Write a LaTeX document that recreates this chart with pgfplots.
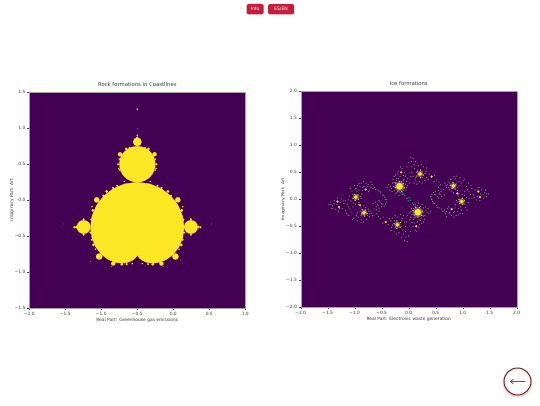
\documentclass[border=0pt]{standalone}
\usepackage{pgfplots}
\pgfplotsset{compat=1.18}
\usepackage{fontspec}
\setmainfont{DejaVu Sans}
\definecolor{vp}{HTML}{440154}
\definecolor{vy}{HTML}{FDE725}
\definecolor{dustc}{HTML}{7F8F7C}
\definecolor{midd}{HTML}{C4DA5A}
\definecolor{teal2}{HTML}{2A8A7E}
\definecolor{btn}{HTML}{C41E3A}
\definecolor{ring}{HTML}{8B1A1F}
\definecolor{txt}{HTML}{3A3A3A}
\newcommand\dd[3]{\addplot[only marks,mark=*,mark size=#1,mark options={draw=#2,fill=#2,line width=.05pt}] coordinates {#3};}
\newcommand\gl[3]{\addplot[only marks,mark=*,mark size=#1,mark options={draw=#2,fill=#2,line width=.05pt,opacity=.4}] coordinates {#3};}
\pgfplotsset{
  pan/.style={
    anchor=south west, scale only axis, width=216pt, height=216pt,
    axis background/.style={fill=vp},
    tick align=outside, tick pos=left, major tick length=1.8pt,
    tick style={line width=.3pt,color=txt}, axis line style={line width=.25pt,color=gray!70},
    ticklabel style={font=\fontsize{4.4}{5}\selectfont,text=txt},
    xlabel style={font=\fontsize{4.4}{5}\selectfont,text=txt},
    ylabel style={font=\fontsize{4.4}{5}\selectfont,text=txt},
    title style={font=\fontsize{5.3}{6}\selectfont,text=txt,yshift=-3.6pt},
    xticklabel style={yshift=1.5pt}, yticklabel style={xshift=1.5pt},
    xlabel shift=-4.2pt, ylabel shift=-6pt,
    clip=true,
  }
}
\begin{document}
\begin{tikzpicture}[x=1pt,y=1pt]
\path[use as bounding box,fill=white] (0,0) rectangle (540,405);
\begin{axis}[pan, at={(29.3pt,96.8pt)}, xmin=-2,xmax=1,ymin=-1.5,ymax=1.5,
  xtick={-2,-1.5,-1,-.5,0,.5,1}, xticklabels={−2.0,−1.5,−1.0,−0.5,0.0,0.5,1.0},
  ytick={-1.5,-1,-.5,0,.5,1,1.5}, yticklabels={−1.5,−1.0,−0.5,0.0,0.5,1.0,1.5},
  title={Rock formations in Coastlines},
  xlabel={Real Part: Greenhouse gas emissions}, ylabel={Imaginary Part: Art}]
\addplot[fill=vy,draw=vy,line width=.3pt] coordinates {
(-.5,-.75)(-.4987,-.7575)(-.4897,-.7783)(-.4665,-.808)(-.4248,-.8396)(-.3632,-.8648)(-.2835,-.875)(-.1909,-.8625)(-.0931,-.8217)(0,-.75)(.0779,-.6481)(.1305,-.5205)(.1495,-.375)(.1292,-.222)(.0676,-.0736)(-.0335,.058)(-.1683,.1613)(-.3277,.2273)(-.5,.25)(-.6723,.2273)(-.8317,.1613)(-.9665,.058)(-1.0676,-.0736)(-1.1292,-.222)(-1.1495,-.375)(-1.1305,-.5205)(-1.0779,-.6481)(-1,-.75)(-.9069,-.8217)(-.8091,-.8625)(-.7165,-.875)(-.6368,-.8648)(-.5752,-.8396)(-.5335,-.808)(-.5103,-.7783)(-.5013,-.7575)(-.5,-.75)} -- cycle;
\dd{18}{vy}{(-.5,.5)}
\dd{6.8}{vy}{(.245,-.372)(-1.245,-.372)}
\dd{4.3}{vy}{(-.5,.81)}
\dd{3.2}{vy}{(.03,-.782)(-1.03,-.782)}
\dd{2.7}{vy}{(.063,.0046)(-1.063,.0046)}
\dd{2.1}{vy}{(-.26,.638)(-.74,.638)(-.165,-.88)(-.835,-.88)}
\dd{1.4}{vy}{(.11,-.621)(-1.11,-.621)(-.075,.122)(-.925,.122)(.117,-.141)(-1.117,-.141)(-.284,-.889)(-.716,-.889)(-.346,.712)(-.654,.712)(.345,-.373)(-1.345,-.373)}
\dd{1.0}{vy}{(-.234,.5)(-.766,.5)(-.352,-.888)(-.648,-.888)(-.162,.172)(-.838,.172)(.13,-.55)(-1.13,-.55)(-.03,.062)(-.97,.062)(.375,-.375)(-1.375,-.375)(-.5,.87)(.245,-.48)(-1.245,-.48)(.245,-.265)(-1.245,-.265)(.14,-.27)(-1.14,-.27)(.15,-.45)(-1.15,-.45)(-.22,.2)(-.78,.2)(.02,-.02)(-1.02,-.02)}
\dd{.7}{vy}{(-.251,.419)(-.749,.419)(-.39,.73)(-.61,.73)(-.5,.9)(-.43,-.88)(-.57,-.88)(-.24,.44)(-.76,.44)(-.25,.57)(-.75,.57)(.08,-.68)(-1.08,-.68)(.13,-.09)(-1.13,-.09)(-.32,.26)(-.68,.26)}
\dd{.9}{orange!80!vy}{(-.5,1.262)}
\dd{.4}{dustc}{(.53,-.33)(-1.53,-.33)(-.5,1.0)(-.14,-.92)(-.86,-.92)(-1.15,-.85)(.1,-.83)}
\end{axis}
\begin{axis}[pan, at={(300.7pt,97.7pt)}, xmin=-2,xmax=2,ymin=-2,ymax=2,
  xtick={-2,-1.5,-1,-.5,0,.5,1,1.5,2}, xticklabels={−2.0,−1.5,−1.0,−0.5,0.0,0.5,1.0,1.5,2.0},
  ytick={-2,-1.5,-1,-.5,0,.5,1,1.5,2}, yticklabels={−2.0,−1.5,−1.0,−0.5,0.0,0.5,1.0,1.5,2.0},
  title={Ice formations},
  xlabel={Real Part: Electronic waste generation}, ylabel={Imaginary Part: Art}]
\gl{5}{midd}{(.17,-.24)(-.17,.24)}
\gl{3}{midd}{(.21,.47)(.826,.248)(.98,-.04)(-.21,-.47)(-.826,-.248)(-.98,.04)}
\dd{.5}{dustc}{
(.32,-.2)(.37,-.27)(.3,-.3)(.29,-.37)(.22,-.39)(.16,-.42)(.09,-.37)(.04,-.33)(.02,-.25)(.05,-.17)(.09,-.1)(.18,-.07)(.25,-.1)(.31,-.14)(.24,-.45)(.06,-.43)
(.19,-.52)(.12,-.57)(.08,-.5)(.2,-.47)(.15,-.6)
(.03,.78)(.08,.76)(.13,.7)(.1,.64)(.05,.7)(0,.68)(-.03,.6)(.06,.6)
(.33,.4)(.3,.35)(.2,.33)(.12,.36)(.08,.42)(.06,.5)(.11,.57)(.18,.62)(.27,.6)(.32,.52)(.38,.47)(.25,.3)(.15,.28)
(.48,.44)(.52,.36)(.47,.33)(.56,.32)(.59,.27)(.55,.22)(.64,.18)(.6,.14)(.66,.08)
(.549,.164)(.456,.127)(.407,.053)(.444,-.04)(.518,-.12)(.61,-.18)(.70,-.225)(.567,.115)(.61,.053)(.549,.022)(.505,.084)(.48,.09)(.42,0)(.48,-.08)(.56,-.16)(.66,-.2)(.75,-.27)(.68,-.27)
(.74,-.14)(.83,-.24)(.76,-.24)(.86,-.16)(.92,-.29)(.88,-.3)
(.72,.27)(.73,.32)(.78,.37)(.87,.38)(.93,.33)(.95,.25)(.9,.16)(.83,.12)(.75,.18)(.7,.22)(.88,.43)(.95,.4)(1.02,.35)(.67,.3)
(.88,-.02)(.87,-.1)(.92,-.17)(.98,-.2)(1.05,-.15)(1.1,-.06)(1.07,.03)(.99,.09)(.92,.06)(1.03,.14)
(1.07,.235)(1.12,.14)(1.2,.08)(1.38,.08)(1.475,.1)(1.44,.05)(1.35,.185)(1.23,.17)(1.17,.2)(1.11,.3)(1.04,.376)(1.17,.02)(1.25,-.01)(1.32,-.025)(1.27,.06)(1.41,.12)
(.28,-.24)(.34,-.24)(.27,-.31)(.23,-.35)(.19,-.38)(.13,-.33)(.1,-.34)(.06,-.28)(.04,-.22)(.09,-.17)(.12,-.09)(.16,-.12)(.22,-.13)(.27,-.16)(.36,-.17)(.4,-.22)(.27,-.42)(.1,-.44)(.02,-.38)(-.02,-.3)
(.26,.4)(.25,.52)(.14,.5)(.13,.4)(.3,.48)(.36,.36)(.1,.3)(.04,.42)(.23,.64)(.33,.58)
(.88,.3)(.76,.3)(.74,.22)(.8,.15)(.9,.22)(.97,.3)(.84,.42)(.69,.26)
(1.04,-.09)(.96,-.14)(.9,-.05)(1.12,.01)(1.03,.07)(.93,.1)(1,-.26)(1.08,-.2)
(.43,.09)(.5,.14)(.6,.19)(.43,0)(.46,-.07)(.53,-.15)(.63,-.22)(.58,.09)(.53,.05)(.72,-.17)(.79,-.3)(.7,-.32)
(.85,-.22)(.9,-.23)(.95,-.26)(.84,-.33)
(1.15,.26)(1.09,.18)(1.14,.09)(1.21,.03)(1.28,.17)(1.33,.1)(1.38,.02)(1.42,.17)(1.44,.1)(1.3,.22)
(-.32,.2)(-.37,.27)(-.3,.3)(-.29,.37)(-.22,.39)(-.16,.42)(-.09,.37)(-.04,.33)(-.02,.25)(-.05,.17)(-.09,.1)(-.18,.07)(-.25,.1)(-.31,.14)(-.24,.45)(-.06,.43)
(-.19,.52)(-.12,.57)(-.08,.5)(-.2,.47)(-.15,.6)
(-.03,-.78)(-.08,-.76)(-.13,-.7)(-.1,-.64)(-.05,-.7)(0,-.68)(.03,-.6)(-.06,-.6)
(-.33,-.4)(-.3,-.35)(-.2,-.33)(-.12,-.36)(-.08,-.42)(-.06,-.5)(-.11,-.57)(-.18,-.62)(-.27,-.6)(-.32,-.52)(-.38,-.47)(-.25,-.3)(-.15,-.28)
(-.48,-.44)(-.52,-.36)(-.47,-.33)(-.56,-.32)(-.59,-.27)(-.55,-.22)(-.64,-.18)(-.6,-.14)(-.66,-.08)
(-.549,-.164)(-.456,-.127)(-.407,-.053)(-.444,.04)(-.518,.12)(-.61,.18)(-.70,.225)(-.567,-.115)(-.61,-.053)(-.549,-.022)(-.505,-.084)(-.48,-.09)(-.42,0)(-.48,.08)(-.56,.16)(-.66,.2)(-.75,.27)(-.68,.27)
(-.74,.14)(-.83,.24)(-.76,.24)(-.86,.16)(-.92,.29)(-.88,.3)
(-.72,-.27)(-.73,-.32)(-.78,-.37)(-.87,-.38)(-.93,-.33)(-.95,-.25)(-.9,-.16)(-.83,-.12)(-.75,-.18)(-.7,-.22)(-.88,-.43)(-.95,-.4)(-1.02,-.35)(-.67,-.3)
(-.88,.02)(-.87,.1)(-.92,.17)(-.98,.2)(-1.05,.15)(-1.1,.06)(-1.07,-.03)(-.99,-.09)(-.92,-.06)(-1.03,-.14)
(-1.07,-.235)(-1.12,-.14)(-1.2,-.08)(-1.38,-.08)(-1.475,-.1)(-1.44,-.05)(-1.35,-.185)(-1.23,-.17)(-1.17,-.2)(-1.11,-.3)(-1.04,-.376)(-1.17,-.02)(-1.25,.01)(-1.32,.025)(-1.27,-.06)(-1.41,-.12)
(-.28,.24)(-.34,.24)(-.27,.31)(-.23,.35)(-.19,.38)(-.13,.33)(-.1,.34)(-.06,.28)(-.04,.22)(-.09,.17)(-.12,.09)(-.16,.12)(-.22,.13)(-.27,.16)(-.36,.17)(-.4,.22)(-.27,.42)(-.1,.44)(-.02,.38)(.02,.3)
(-.26,-.4)(-.25,-.52)(-.14,-.5)(-.13,-.4)(-.3,-.48)(-.36,-.36)(-.1,-.3)(-.04,-.42)(-.23,-.64)(-.33,-.58)
(-.88,-.3)(-.76,-.3)(-.74,-.22)(-.8,-.15)(-.9,-.22)(-.97,-.3)(-.84,-.42)(-.69,-.26)
(-1.04,.09)(-.96,.14)(-.9,.05)(-1.12,-.01)(-1.03,-.07)(-.93,-.1)(-1,.26)(-1.08,.2)
(-.43,-.09)(-.5,-.14)(-.6,-.19)(-.43,0)(-.46,.07)(-.53,.15)(-.63,.22)(-.58,-.09)(-.53,-.05)(-.72,.17)(-.79,.3)(-.7,.32)
(-.85,.22)(-.9,.23)(-.95,.26)(-.84,.33)
(-1.15,-.26)(-1.09,-.18)(-1.14,-.09)(-1.21,-.03)(-1.28,-.17)(-1.33,-.1)(-1.38,-.02)(-1.42,-.17)(-1.44,-.1)(-1.3,-.22)
}
\dd{.7}{teal2}{(.12,-.13)(.07,-.07)(.03,-.02)(.01,.03)(-.12,.13)(-.07,.07)(-.03,.02)(-.01,-.03)}
\dd{.6}{midd}{(.25,-.22)(.24,-.3)(.17,-.33)(.1,-.29)(.08,-.21)(.13,-.15)(.2,-.15)(.27,.45)(.22,.4)(.15,.43)(.16,.52)(.22,.54)(.87,.27)(.82,.31)(.77,.26)(.8,.2)(.86,.19)(1.03,-.02)(1,-.09)(.94,-.08)(.93,0)(.99,.02)
(-.25,.22)(-.24,.3)(-.17,.33)(-.1,.29)(-.08,.21)(-.13,.15)(-.2,.15)(-.27,-.45)(-.22,-.4)(-.15,-.43)(-.16,-.52)(-.22,-.54)(-.87,-.27)(-.82,-.31)(-.77,-.26)(-.8,-.2)(-.86,-.19)(-1.03,.02)(-1,.09)(-.94,.08)(-.93,0)(-.99,-.02)}
\dd{1.1}{midd!60!vy}{(.14,-.5)(.426,.42)(.796,-.182)(.9,.11)(1.29,.143)(1.32,.04)(-.14,.5)(-.426,-.42)(-.796,.182)(-.9,-.11)(-1.29,-.143)(-1.32,-.04)}
\dd{1.9}{vy}{(.21,.47)(.826,.248)(.98,-.04)(-.21,-.47)(-.826,-.248)(-.98,.04)}
\dd{3.3}{vy}{(.17,-.24)(-.17,.24)}
\end{axis}
% page furniture
\fill[btn,rounded corners=1.5pt] (246.5,390.5) rectangle (263.5,401);
\node[text=white,font=\fontsize{4.6}{5}\selectfont] at (255,395.8) {Info};
\fill[btn,rounded corners=1.5pt] (268,390.5) rectangle (294,401);
\node[text=white,font=\fontsize{4.6}{5}\selectfont] at (281,395.8) {ES/EN};
\fill[black!12] (517.5,22.5) circle (15);
\fill[white] (517.5,23.5) circle (13.5);
\draw[ring,line width=1pt] (517.5,23.5) circle (13.5);
\draw[ring!85,line width=.7pt] (525,23.5) -- (510.5,23.5) (513.5,26) -- (510.5,23.5) -- (513.5,21);
\end{tikzpicture}
\end{document}
